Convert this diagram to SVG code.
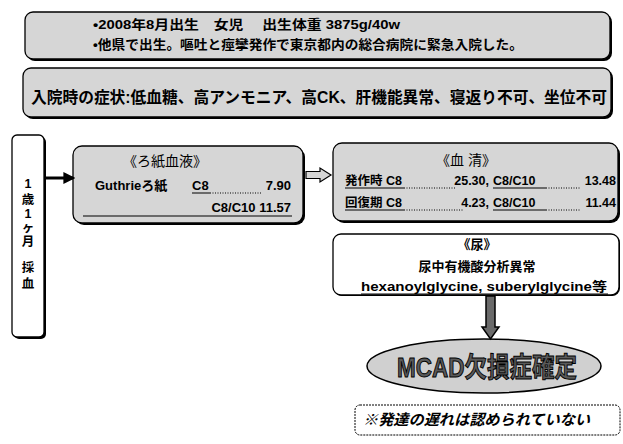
<svg xmlns="http://www.w3.org/2000/svg" width="623" height="444" viewBox="0 0 623 444">
<defs>
<marker id="ah" markerWidth="4" markerHeight="4" refX="3.2" refY="2" orient="auto" markerUnits="strokeWidth">
<path d="M0,0 L4,2 L0,4 Z" fill="#000"/>
</marker>
</defs>
<style>
text{font-family:"Liberation Sans","Noto Sans CJK JP",sans-serif;font-weight:bold;fill:#000;}
.sh{fill:#000;}
.box{stroke:#000;stroke-width:1.3;}
.pat{fill:#d6d6d6;}
.wht{fill:#fff;}
.t13{font-size:13px;}
.t12{font-size:12.5px;}
.ttl{font-weight:normal;font-size:14px;}
.ul{stroke:#000;stroke-width:1;}
.dot{stroke:#000;stroke-width:1;stroke-dasharray:1 1.5;}
</style>

<g id="profile">
<rect class="sh" x="27" y="14" width="585" height="47" rx="8"/>
<rect class="box pat" x="25" y="12" width="585" height="47" rx="8"/>
<text class="t13" x="93" y="29" textLength="307" lengthAdjust="spacingAndGlyphs">•2008年8月出生　女児　 出生体重  3875g/40w</text>
<text class="t13" x="93" y="49" textLength="430" lengthAdjust="spacingAndGlyphs">•他県で出生。嘔吐と痙攣発作で東京都内の総合病院に緊急入院した。</text>
</g>

<g id="symptoms">
<rect class="sh" x="25" y="70" width="588" height="49" rx="8"/>
<rect class="box pat" x="23" y="68" width="588" height="49" rx="8"/>
<text x="31" y="103" font-size="16" textLength="576" lengthAdjust="spacingAndGlyphs">入院時の症状:低血糖、高アンモニア、高CK、肝機能異常、寝返り不可、坐位不可</text>
</g>

<g id="age">
<rect class="sh" x="14" y="137" width="32" height="202" rx="5"/>
<rect class="box wht" x="12" y="135" width="32" height="202" rx="5"/>
<g font-size="12.5" text-anchor="middle">
<text x="28" y="188">1</text>
<text x="28" y="204">歳</text>
<text x="28" y="218">1</text>
<text x="28" y="232">ヶ</text>
<text x="28" y="246">月</text>
<text x="28" y="272">採</text>
<text x="28" y="288">血</text>
</g>
</g>

<g id="filter-paper">
<rect class="sh" x="75" y="148" width="230" height="77" rx="9"/>
<rect class="box pat" x="73" y="146" width="230" height="77" rx="9"/>
<text class="ttl" x="165" y="166" text-anchor="middle">《ろ紙血液》</text>
<text class="t13" x="95" y="190">Guthrieろ紙</text>
<text class="t13" x="192" y="190">C8</text>
<line class="ul" x1="192" y1="193" x2="210" y2="193"/>
<line class="dot" x1="210" y1="193" x2="262" y2="193"/>
<text class="t13" x="291" y="190" text-anchor="end">7.90</text>
<text class="t13" x="291" y="212" text-anchor="end">C8/C10  11.57</text>
<line class="ul" x1="83" y1="216" x2="292" y2="216"/>
</g>

<g id="serum">
<rect class="sh" x="335" y="145" width="285" height="78" rx="9"/>
<rect class="box pat" x="333" y="143" width="285" height="78" rx="9"/>
<text class="ttl" x="466" y="165" text-anchor="middle">《血  清》</text>
<text class="t12" x="345" y="185">発作時 C8</text>
<line class="ul" x1="345" y1="188" x2="404" y2="188"/>
<line class="dot" x1="404" y1="188" x2="455" y2="188"/>
<text class="t12" x="489" y="185" text-anchor="end">25.30,</text>
<text class="t12" x="493" y="185">C8/C10</text>
<line class="ul" x1="493" y1="188" x2="546" y2="188"/>
<line class="dot" x1="546" y1="188" x2="580" y2="188"/>
<text class="t12" x="616" y="185" text-anchor="end">13.48</text>
<text class="t12" x="345" y="207">回復期 C8</text>
<line class="ul" x1="345" y1="210" x2="404" y2="210"/>
<line class="dot" x1="404" y1="210" x2="463" y2="210"/>
<text class="t12" x="489" y="207" text-anchor="end">4.23,</text>
<text class="t12" x="493" y="207">C8/C10</text>
<line class="ul" x1="493" y1="210" x2="546" y2="210"/>
<line class="dot" x1="546" y1="210" x2="580" y2="210"/>
<text class="t12" x="616" y="207" text-anchor="end">11.44</text>
</g>

<g id="urine">
<rect class="sh" x="334" y="235" width="286" height="61" rx="8"/>
<rect class="box wht" x="333" y="234" width="286" height="61" rx="8"/>
<text class="t13" x="477" y="249" text-anchor="middle">《尿》</text>
<text class="t13" x="477" y="271" text-anchor="middle">尿中有機酸分析異常</text>
<text class="t13" x="484" y="291" text-anchor="middle" textLength="246" lengthAdjust="spacingAndGlyphs">hexanoylglycine, suberylglycine等</text>
<line class="ul" x1="361" y1="294" x2="608" y2="294"/>
</g>

<g id="mcad">
<ellipse cx="484" cy="366" rx="117" ry="27" fill="#d0d0d0" stroke="#000" stroke-width="1.5"/>
<text x="487" y="377" font-size="27" text-anchor="middle" textLength="180" lengthAdjust="spacingAndGlyphs" style="fill:#5a5a5a;stroke:#000;stroke-width:1;">MCAD欠損症確定</text>
</g>

<g id="note">
<rect x="355" y="405" width="265" height="30" rx="5" fill="#fff" stroke="#000" stroke-width="1" stroke-dasharray="2 1"/>
<text x="363" y="425" font-size="15" font-style="italic" textLength="227" lengthAdjust="spacingAndGlyphs">※発達の遅れは認められていない</text>
</g>

<g id="connectors">
<line x1="45" y1="178" x2="73" y2="178" stroke="#000" stroke-width="3" marker-end="url(#ah)"/>
<path d="M306,171.5 H320 V168 L331,175 L320,182 V178.5 H306 Z" fill="#d6d6d6" stroke="#000" stroke-width="1.2"/>
<path d="M486,296 H495 V327 H499 L490.5,339 L482,327 H486 Z" fill="#6a6a6a" stroke="#000" stroke-width="1.5"/>
</g>
</svg>
